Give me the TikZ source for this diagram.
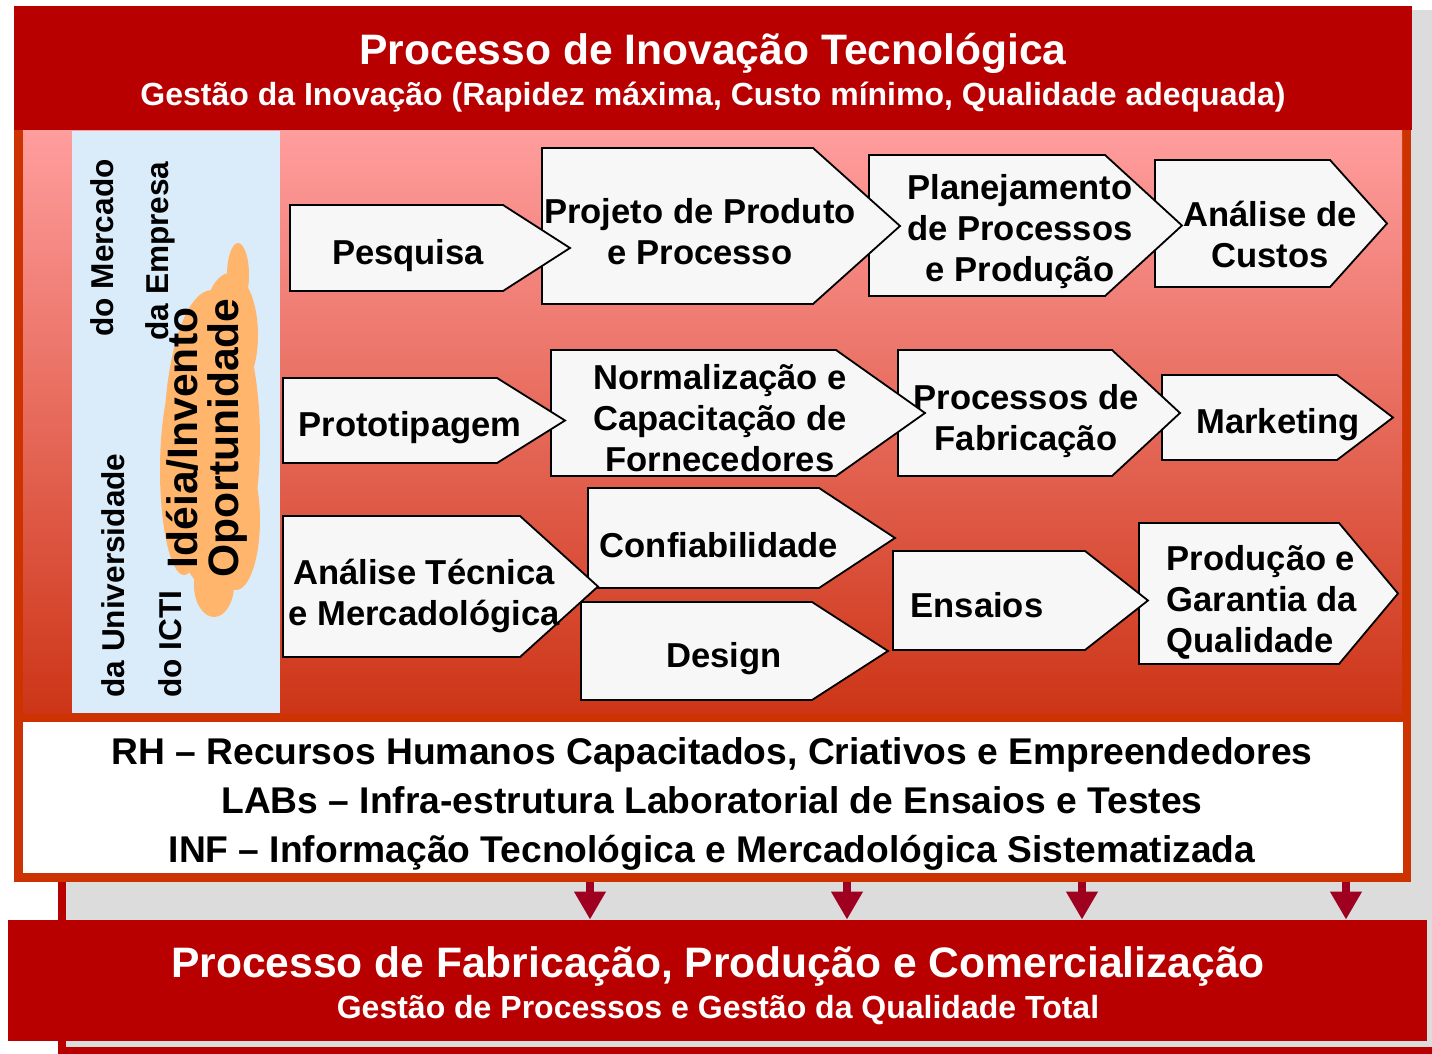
\documentclass[tikz,border=0pt]{standalone}
\usepackage{fontspec}
\setmainfont{Liberation Sans}
\usetikzlibrary{arrows.meta}
\definecolor{bannerred}{HTML}{B80000}
\definecolor{framered}{HTML}{CC3300}
\definecolor{arrowred}{HTML}{A00020}
\definecolor{shadowgrey}{HTML}{DCDCDC}
\definecolor{panelblue}{HTML}{DAECFA}
\definecolor{cloudorange}{HTML}{FFB56B}
\definecolor{chevfill}{HTML}{F7F7F7}
\definecolor{gradtop}{HTML}{FF9E9E}
\definecolor{gradbottom}{HTML}{CD3517}

% name, left, top, notch, tip, bottom, text position, text
\newcommand{\procstep}[8]{%
  \draw[chevbox] (#2,#3) -- (#4,#3) -- (#5,{(#3+#6)/2}) -- (#4,#6) -- (#2,#6) -- cycle;
  \node[chevtext] (#1) at (#7) {#8};%
}

\begin{document}
\begin{tikzpicture}[x=0.5pt, y=-0.5pt,
    banner/.style={fill=bannerred, inner sep=0pt},
    titletext/.style={text=white, font=\bfseries\fontsize{21.3}{25}\selectfont},
    subtext/.style={text=white, font=\bfseries\fontsize{16}{19}\selectfont},
    sidetext/.style={font=\bfseries\fontsize{15.8}{19}\selectfont, rotate=90, anchor=west, inner sep=0pt},
    chevbox/.style={fill=chevfill, draw=black, line width=0.9pt},
    chevtext/.style={font=\bfseries\fontsize{17.3}{20.5}\selectfont, align=center, inner sep=0pt, yshift=-1.5pt},
    flowarrow/.style={arrowred, line width=4pt, -{Triangle[width=15pt,length=14pt]}}]
  \useasboundingbox (0,0) rectangle (1432,1054);

  % shadow behind everything
  \fill[shadowgrey] (62,10) rectangle (1440,1051);
  \draw[bannerred, line width=4pt] (62,10) -- (62,1051) -- (1440,1051);

  % innovation frame
  \fill[framered] (14,128) rectangle (1411,882);
  \shade[top color=gradtop, bottom color=gradbottom] (23,128) rectangle (1402,713);
  \node[banner, minimum width=699pt, minimum height=62pt] (innov) at (713,68) {};
  \node[titletext] (innovtitle) at (713,53) {Processo de Inovação Tecnológica};
  \node[subtext] (innovsub) at (713,97) {Gestão da Inovação (Rapidez máxima, Custo mínimo, Qualidade adequada)};

  % sources of ideas
  \fill[panelblue] (72,131) rectangle (280,713);
  \fill[cloudorange] (212,440) ellipse (48 and 150)
                     (238,275) ellipse (11 and 32)
                     (230,335) ellipse (28 and 62)
                     (184,470) ellipse (24 and 105)
                     (214,585) ellipse (20 and 32)
                     (236,520) ellipse (24 and 70);
  \node[font=\bfseries\fontsize{21.3}{20.5}\selectfont, align=center, rotate=90, inner sep=0pt]
        (ideatext) at (207,438) {Idéia/Invento\\Oportunidade};
  \node[sidetext] (mercado) at (102,337) {do Mercado};
  \node[sidetext] (empresa) at (160,341) {da Empresa};
  \node[sidetext] (univ) at (113,698) {da Universidade};
  \node[sidetext] (icti) at (170,698) {do ICTI};

  % steps, drawn right to left
  \procstep{custos}{1155}{160}{1330}{1387}{287}{1270,231}{Análise de\\Custos}
  \procstep{planej}{869}{155}{1105}{1182}{296}{1020,229}{Planejamento\\de Processos\\e Produção}
  \procstep{projeto}{542}{148}{813}{900}{304}{700,229}{Projeto de Produto\\e Processo}
  \procstep{pesquisa}{290}{205}{503}{570}{291}{408,253}{Pesquisa}

  \procstep{marketing}{1162}{375}{1337}{1393}{460}{1278,422}{Marketing}
  \procstep{fabric}{898}{350}{1112}{1180}{476}{1026,418}{Processos de\\Fabricação}
  \procstep{normal}{551}{350}{836}{925}{476}{720,415}{Normalização e\\Capacitação de\\Fornecedores}
  \procstep{proto}{283}{378}{497}{565}{463}{410,425}{Prototipagem}

  \procstep{qualid}{1139}{523}{1339}{1398}{664}{1262,600}{\begin{tabular}{@{}l@{}}Produção e\\Garantia da\\Qualidade\end{tabular}}
  \procstep{ensaios}{893}{551}{1085}{1148}{650}{977,602}{Ensaios}
  \procstep{design}{581}{602}{812}{888}{700}{724,656}{Design}
  \procstep{confiab}{588}{488}{819}{895}{588}{719,542}{Confiabilidade}
  \procstep{analtec}{283}{516}{520}{598}{657}{424,593}{Análise Técnica\\e Mercadológica}

  % resources
  \node[fill=white, minimum width=690pt, minimum height=75.5pt, inner sep=0pt] (rhbox) at (713,797.5) {};
  \node[font=\bfseries\fontsize{18.6}{24.5}\selectfont, align=center, inner sep=0pt] (rhlines) at (712,804)
    {RH -- Recursos Humanos Capacitados, Criativos e Empreendedores\\
     LABs -- Infra-estrutura Laboratorial de Ensaios e Testes\\
     INF -- Informação Tecnológica e Mercadológica Sistematizada};
  \coordinate (rhfoot) at (713,882);

  % manufacturing
  \node[banner, minimum width=709.5pt, minimum height=60.5pt] (fabrica) at (717.5,980.5) {};
  \node[titletext] (fabtitle) at (718,966) {Processo de Fabricação, Produção e Comercialização};
  \node[subtext] (fabsub) at (718,1010) {Gestão de Processos e Gestão da Qualidade Total};

  \foreach \x in {590,847,1082,1346}
    \draw[flowarrow] (\x,0 |- rhfoot) -- (\x,0 |- fabrica.north);
\end{tikzpicture}
\end{document}
